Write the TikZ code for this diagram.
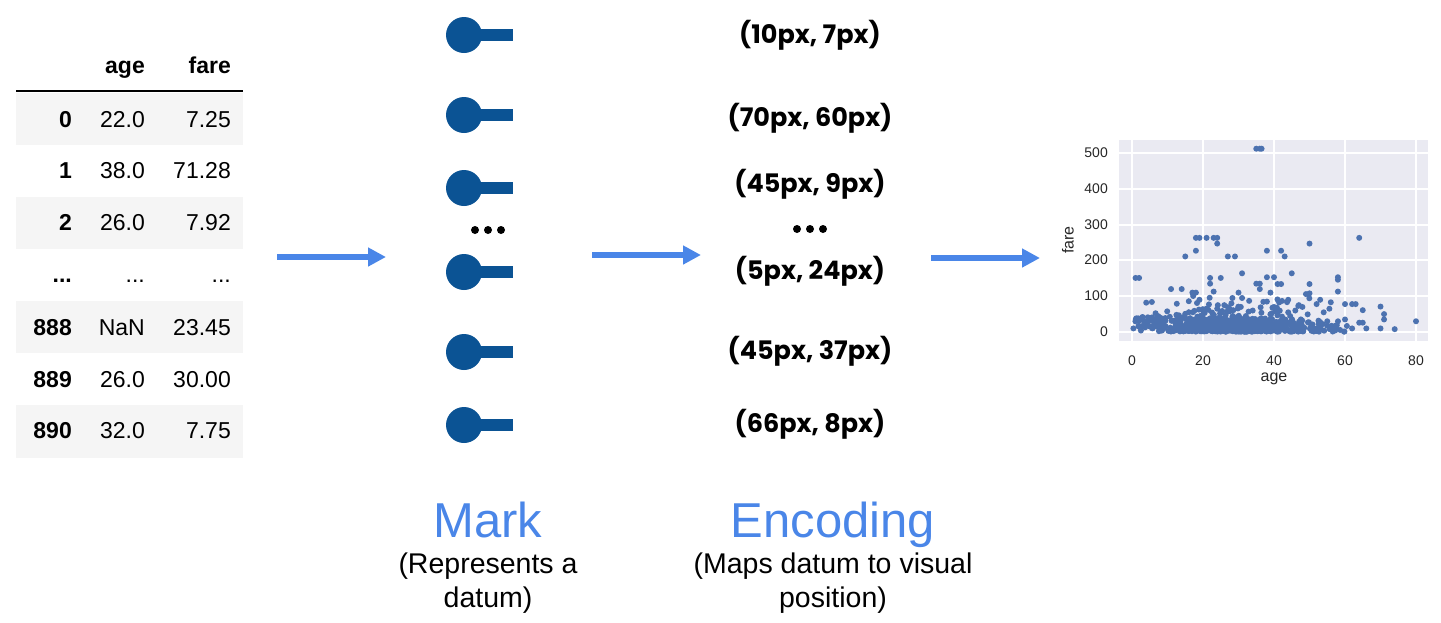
\documentclass[tikz,border=0pt]{standalone}
\usepackage{fontspec}
\setmainfont{Liberation Sans}
\newfontfamily\popfont{Poppins}
\usetikzlibrary{arrows.meta}
\definecolor{markblue}{HTML}{0B5394}
\definecolor{lblue}{HTML}{4A86E8}
\definecolor{rowgray}{HTML}{F5F5F5}
\definecolor{axbg}{HTML}{EAEAF2}
\definecolor{dotc}{HTML}{4C72B0}
\definecolor{tickc}{HTML}{262626}
\begin{document}
\begin{tikzpicture}[x=1pt,y=-1pt,
  cell/.style={anchor=base east,inner sep=0pt,font=\fontsize{23}{23}\selectfont},
  idx/.style={anchor=base east,inner sep=0pt,font=\fontsize{23}{23}\selectfont\bfseries},
  enc/.style={inner sep=0pt,font=\popfont\fontsize{25.5}{25.5}\selectfont\bfseries},
  flow/.style={lblue,line width=6pt,-{Triangle[length=18pt,width=18pt]}},
  markdot/.style={circle,fill=markblue,inner sep=0pt,minimum size=36pt},
  bigl/.style={anchor=base,inner sep=0pt,text=lblue,font=\fontsize{49}{49}\selectfont},
  subl/.style={anchor=base,inner sep=0pt,font=\fontsize{28.5}{28.5}\selectfont},
  tick/.style={inner sep=0pt,text=tickc,font=\fontsize{14}{14}\selectfont},
  axl/.style={inner sep=0pt,text=tickc,font=\fontsize{16}{16}\selectfont},
  ell/.style={circle,fill=black,inner sep=0pt,minimum size=8pt}]
\useasboundingbox (0,0) rectangle (1441,622);
% ---------- table ----------
\foreach \t/\b in {93/145,197/249,301/353,405/458}
  \fill[rowgray] (16,\t) rectangle (243,\b);
\draw[line width=1.5pt] (16,91) -- (243,91);
\node[idx] (hage) at (145,73) {age};
\node[idx] (hfare) at (231,73) {fare};
\foreach \n/\i/\a/\f/\y in {r0/0/22.0/7.25/127, r1/1/38.0/71.28/178, r2/2/26.0/7.92/230,
    r888/888/NaN/23.45/335, r889/889/26.0/30.00/387, r890/890/32.0/7.75/438}{
  \node[idx] (\n i) at (72,\y) {\i};
  \node[cell] (\n a) at (145,\y) {\a};
  \node[cell] (\n f) at (231,\y) {\f};
}
\node[idx] (rdi) at (72,282) {...};
\node[cell] (rda) at (145,282) {...};
\node[cell] (rdf) at (231,282) {...};
% ---------- marks ----------
\foreach \k/\y in {1/35,2/115,3/188,4/272,5/352,6/425}{
  \fill[markblue] (470,\y-6) rectangle (513,\y+6);
  \node[markdot] (m\k) at (464,\y) {};
}
\node[ell] (md1) at (475,230) {};
\node[ell] (md2) at (488,230) {};
\node[ell] (md3) at (501,230) {};
% ---------- encodings ----------
\node[enc] (e1) at (810,35) {(10px, 7px)};
\node[enc] (e2) at (810,118) {(70px, 60px)};
\node[enc] (e3) at (810,184) {(45px, 9px)};
\node[enc] (e4) at (810,271) {(5px, 24px)};
\node[enc] (e5) at (810,351) {(45px, 37px)};
\node[enc] (e6) at (810,424) {(66px, 8px)};
\node[ell] (ed1) at (797,229) {};
\node[ell] (ed2) at (810,229) {};
\node[ell] (ed3) at (823,229) {};
% ---------- labels ----------
\node[bigl] (lmark) at (488,537) {Mark};
\node[subl] (smark1) at (488,573) {(Represents a};
\node[subl] (smark2) at (488,607) {datum)};
\node[bigl] (lenc) at (833,537) {Encoding};
\node[subl] (senc1) at (833,573) {(Maps datum to visual};
\node[subl] (senc2) at (833,607) {position)};
% ---------- arrows ----------
\coordinate (a1s) at (277,257); \coordinate (a1e) at (386,257);
\coordinate (a2s) at (592,255); \coordinate (a2e) at (701,255);
\coordinate (a3s) at (931,258); \coordinate (a3e) at (1040,258);
\draw[flow] (a1s) -- (a1e);
\draw[flow] (a2s) -- (a2e);
\draw[flow] (a3s) -- (a3e);
% ---------- scatter ----------
\fill[axbg] (1119,140) rectangle (1428,341);
\foreach \v/\x in {0/1132,20/1203,40/1274,60/1345,80/1416}{
  \draw[white,line width=1.2pt] (\x,140) -- (\x,341);
  \node[tick] (xt\v) at (\x,361) {\v};
}
\foreach \v/\y in {0/332,100/296,200/260,300/225,400/189,500/153}{
  \draw[white,line width=1.2pt] (1119,\y) -- (1428,\y);
  \node[tick,anchor=east] (yt\v) at (1108,\y) {\v};
}
\node[axl] (xlab) at (1274,379) {age};
\node[axl,rotate=90] (ylab) at (1068,240) {fare};
\begin{scope}
\clip (1119,140) rectangle (1428,341);
\pgfmathsetseed{12}
\foreach \i in {1,...,620}{
  \pgfmathsetmacro\ag{max(0.4,min(74,29+24*(rnd+rnd+rnd-1.5)))}
  \pgfmathsetmacro\fa{1+35*rnd^2+70*rnd^8}
  \fill[dotc] ({1132+3.55*\ag},{332-0.358*\fa}) circle (3);
}
\foreach \i in {1,...,55}{
  \pgfmathsetmacro\ag{0.5+9*rnd}
  \pgfmathsetmacro\fa{10+32*rnd}
  \fill[dotc] ({1132+3.55*\ag},{332-0.358*\fa}) circle (3);
}
\foreach \ag/\fa in {35/512,36/512,36.5/512,18/263,19/263,21/263,23/263,24/263,64/263,
  18/227,38/227,42/227,24/247,50/247,15/211,27/211,29/211,43/211,31/164,45/164,
  58/153,58/146,22/151,25/151,38/153,40/153,1/151,2/151,22/135,35/135,36/135,41/134,
  42/134,36/120,50/134,11/120,14/120,17/110,18/110,23/113,30/110,39/110,49/106,50/108,
  58/113,4/82,16/86,19/90,28/80,33/87,44/90,52/78,53/90,56/83,60/78,62/78,63/78,
  65/61,70/71,71/50,71/35,74/8,80/30,70/10,64/26,65/26,66/10,62/10,60/35,55/30,
  47/75,48/70,46/60,54/55,26/75,31/95,38/85,40/70,44/55,20/60,24/65,34/60}
  \fill[dotc] ({1132+3.55*\ag},{332-0.358*\fa}) circle (3);
\end{scope}
\end{tikzpicture}
\end{document}
